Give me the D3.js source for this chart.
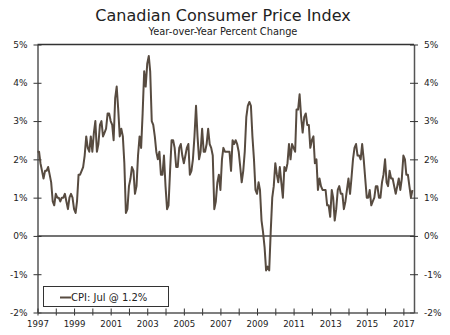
<!DOCTYPE html>
<html>
<head>
<meta charset="utf-8">
<script src="https://cdn.jsdelivr.net/npm/d3@7"></script>
<style>
  body { margin: 0; background: #fff; }
  text { font-family: "DejaVu Sans", Verdana, sans-serif; fill: #222; }
</style>
</head>
<body>
<div class="chart"></div>
<script>
// monthly y/y % change, Jan 1997 - Jul 2017
const cpi1997 = [2.2, 2.2, 1.9, 1.7, 1.5, 1.7, 1.7, 1.8, 1.6, 1.4, 0.9, 0.8]
const cpi1998 = [1.1, 1.0, 1.0, 0.9, 1.0, 1.0, 1.1, 0.9, 0.7, 1.0, 1.1, 1.0]
const cpi1999 = [0.7, 0.6, 0.9, 1.6, 1.6, 1.7, 1.8, 2.1, 2.6, 2.3, 2.2, 2.6]
const cpi2000 = [2.2, 2.7, 3.0, 2.2, 2.4, 2.9, 3.0, 2.6, 2.7, 2.8, 3.2, 3.2]
const cpi2001 = [3.0, 2.9, 2.5, 3.6, 3.9, 3.3, 2.6, 2.8, 2.6, 1.9, 0.6, 0.7]
const cpi2002 = [1.3, 1.5, 1.8, 1.7, 1.1, 1.3, 2.1, 2.6, 2.3, 3.2, 4.3, 3.9]
const cpi2003 = [4.5, 4.7, 4.3, 3.0, 2.9, 2.6, 2.2, 2.0, 2.2, 1.6, 1.6, 2.1]
const cpi2004 = [1.3, 0.7, 0.8, 1.7, 2.5, 2.5, 2.3, 1.8, 1.8, 2.3, 2.4, 2.1]
const cpi2005 = [1.9, 2.1, 2.3, 2.4, 1.6, 1.7, 2.0, 2.6, 3.4, 2.6, 2.0, 2.2]
const cpi2006 = [2.8, 2.2, 2.2, 2.4, 2.8, 2.4, 2.3, 2.1, 0.7, 0.9, 1.4, 1.6]
const cpi2007 = [1.2, 2.0, 2.3, 2.2, 2.2, 2.2, 2.2, 1.7, 2.5, 2.4, 2.5, 2.4]
const cpi2008 = [2.2, 1.8, 1.4, 1.7, 2.2, 3.1, 3.4, 3.5, 3.4, 2.6, 2.0, 1.2]
const cpi2009 = [1.1, 1.4, 1.2, 0.4, 0.1, -0.3, -0.9, -0.8, -0.9, 0.1, 1.0, 1.3]
const cpi2010 = [1.9, 1.6, 1.4, 1.8, 1.4, 1.0, 1.8, 1.7, 1.9, 2.4, 2.0, 2.4]
const cpi2011 = [2.3, 2.2, 3.3, 3.3, 3.7, 3.1, 2.7, 3.1, 3.2, 2.9, 2.9, 2.3]
const cpi2012 = [2.5, 2.6, 1.9, 2.0, 1.2, 1.5, 1.3, 1.2, 1.2, 1.2, 0.8, 0.8]
const cpi2013 = [0.5, 1.2, 1.0, 0.4, 0.7, 1.2, 1.3, 1.1, 1.1, 0.7, 0.9, 1.2]
const cpi2014 = [1.5, 1.1, 1.5, 2.0, 2.3, 2.4, 2.1, 2.1, 2.0, 2.4, 2.0, 1.5]
const cpi2015 = [1.0, 1.0, 1.2, 0.8, 0.9, 1.0, 1.3, 1.3, 1.0, 1.0, 1.4, 1.6]
const cpi2016 = [2.0, 1.4, 1.3, 1.7, 1.5, 1.5, 1.3, 1.1, 1.3, 1.5, 1.2, 1.5]
const cpi2017 = [2.1, 2.0, 1.6, 1.6, 1.3, 1.0, 1.2]

const yTicks = [-2, -1, 0, 1, 2, 3, 4, 5]
const yearTicks = d3.range(1997, 2018)
const yearLabels = d3.range(1997, 2018, 2)

const values = [].concat(cpi1997, cpi1998, cpi1999, cpi2000, cpi2001, cpi2002, cpi2003,
  cpi2004, cpi2005, cpi2006, cpi2007, cpi2008, cpi2009, cpi2010, cpi2011, cpi2012,
  cpi2013, cpi2014, cpi2015, cpi2016, cpi2017)
const Data = values.map((v, i) => ({ date: new Date(1997, i, 1), value: v }))

const width = 450
const height = 335
const plotLeft = 37.5, plotRight = 414, plotTop = 44.5, plotBottom = 312.5

const svg = d3.select('.chart')
  .append('svg')
  .attr('width', width)
  .attr('height', height)

const x = d3.scaleTime()
  .domain([new Date(1997, 0, 1), new Date(2017, 7, 1)])
  .range([plotLeft, plotRight])
const y = d3.scaleLinear()
  .domain([-2, 5])
  .range([plotBottom, plotTop])

// title
svg.append('text')
  .attr('x', 223).attr('y', 21)
  .attr('text-anchor', 'middle')
  .attr('font-size', 16)
  .text('Canadian Consumer Price Index')
svg.append('text')
  .attr('x', 223).attr('y', 35)
  .attr('text-anchor', 'middle')
  .attr('font-size', 9.8)
  .text('Year-over-Year Percent Change')

// frame top + zero line
svg.append('line')
  .attr('x1', plotLeft).attr('x2', plotRight)
  .attr('y1', y(5)).attr('y2', y(5))
  .attr('stroke', '#333').attr('stroke-width', 1.5)
svg.append('line')
  .attr('x1', plotLeft).attr('x2', plotRight)
  .attr('y1', y(0)).attr('y2', y(0))
  .attr('stroke', '#444').attr('stroke-width', 1.5)

// axes
const yLeft = d3.axisLeft(y).tickValues(yTicks).tickFormat(d => d + '%')
  .tickSizeInner(-4).tickSizeOuter(0).tickPadding(10)
const yRight = d3.axisRight(y).tickValues(yTicks).tickFormat(d => d + '%')
  .tickSizeInner(-4).tickSizeOuter(0).tickPadding(10)
const xAxis = d3.axisBottom(x).tickValues(yearTicks.map(d => new Date(d, 0, 1)))
  .tickFormat(d => yearLabels.includes(d.getFullYear()) ? d.getFullYear() : '')
  .tickSizeInner(3).tickSizeOuter(0).tickPadding(5)

function styleAxis(g, size) {
  g.select('.domain').attr('stroke', '#555').attr('stroke-width', 1.5)
  g.selectAll('.tick line').attr('stroke', '#333').attr('stroke-width', 1)
  g.selectAll('.tick text').attr('font-size', size).attr('fill', '#222')
    .attr('font-family', '"DejaVu Sans", Verdana, sans-serif')
}

const gl = svg.append('g').attr('transform', `translate(${plotLeft},0)`).call(yLeft).call(styleAxis, 9)
const gr = svg.append('g').attr('transform', `translate(${plotRight},0)`).call(yRight).call(styleAxis, 9)
const gx = svg.append('g').attr('transform', `translate(0,${plotBottom})`).call(xAxis).call(styleAxis, 8.6)

// ticks cross the axis
gl.selectAll('.tick').append('line').attr('x2', -4).attr('stroke', '#333')
gr.selectAll('.tick').append('line').attr('x2', 4).attr('stroke', '#333')
gx.selectAll('.tick').append('line').attr('y2', -4).attr('stroke', '#333')

// cpi line
const line = d3.line()
  .x(d => x(d.date))
  .y(d => y(d.value))
svg.append('path')
  .datum(Data)
  .attr('fill', 'none')
  .attr('stroke', '#574b40')
  .attr('stroke-width', 2)
  .attr('stroke-linejoin', 'round')
  .attr('d', line)

// legend
svg.append('rect')
  .attr('x', 43.5).attr('y', 286.5)
  .attr('width', 125).attr('height', 20)
  .attr('fill', '#fff').attr('stroke', '#333').attr('stroke-width', 1)
svg.append('line')
  .attr('x1', 60).attr('x2', 71)
  .attr('y1', 297.5).attr('y2', 297.5)
  .attr('stroke', '#574b40').attr('stroke-width', 2)
svg.append('text')
  .attr('x', 71).attr('y', 301)
  .attr('font-size', 10)
  .text('CPI: Jul @ 1.2%')
</script>
</body>
</html>
